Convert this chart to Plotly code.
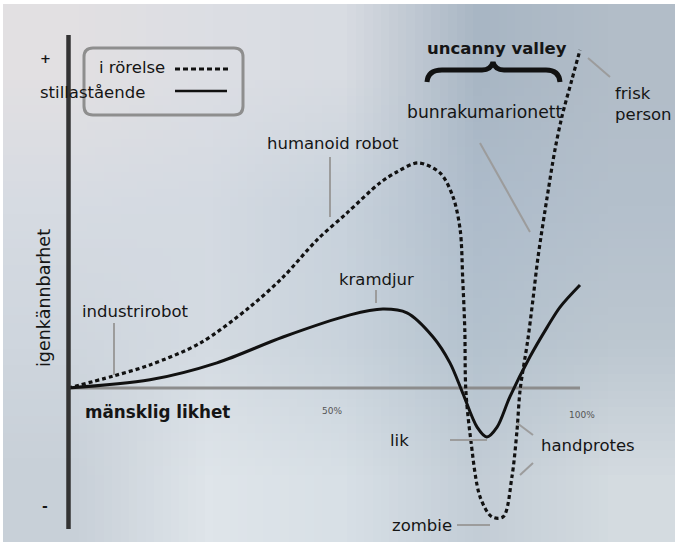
import base64, struct, zlib
import plotly.graph_objects as go

# ---------------- data ----------------
# x: mänsklig likhet (% human likeness), y: igenkännbarhet (familiarity)
moving_x = [0, 8.8, 16.0, 25.8, 35.5, 42.0, 48.6, 54.5, 60.9, 64.3, 68.4, 72.7, 75.2, 76.6,
            77.1, 77.5, 77.7, 78.6, 80.5, 82.8, 85.0, 86.7, 87.7, 88.3, 89.8, 90.8, 91.8,
            93.8, 95.1, 96.5, 98.4, 100]
moving_y = [0, 3.5, 6.8, 13.2, 23.8, 32.6, 43.5, 51.5, 60.3, 63.6, 66.2, 63.2, 56.2, 46.5,
            31.8, 17.1, -0.6, -14.4, -32.1, -37.9, -37.9, -26.2, -12.4, -0.6, 14.1, 25.9, 38.5,
            58.2, 70.0, 80.0, 90.6, 99.4]
still_x = [0, 16.0, 29.1, 42.0, 55.1, 61.5, 66.2, 71.3, 74.6, 77.1, 79.9, 81.8, 83.8, 86.3,
           90.2, 93.6, 96.1, 100]
still_y = [0, 2.4, 7.4, 15.0, 21.5, 23.2, 22.1, 15.0, 7.4, -1.5, -11.5, -14.4, -11.5, -2.6,
           9.1, 17.9, 23.8, 30.3]
series_names = ["i rörelse", "stillastående"]
tick_text = ["50%", "100%"]
axis_titles = ["mänsklig likhet", "igenkännbarhet"]
labels = ["industrirobot", "humanoid robot", "kramdjur", "bunrakumarionett",
          "frisk<br>person", "lik", "handprotes", "zombie", "uncanny valley"]

W, H = 675, 542
# axis ranges chosen so that 0 % / 0 sit at the drawn axis crossing
XR = [-68 / 5.12, (W - 68) / 5.12]
YR = [(388 - H) / 3.4, 388 / 3.4]


def PX(x):
    return x / W


def PY(y):
    return 1 - y / H


# ---------------- background gradient image ----------------
grid = [
    ["#e2e0e2", "#dcdee4", "#d8dce2", "#a8b6c4", "#b2bdc8"],
    ["#d6dbe2", "#d4dae2", "#c8d2dc", "#aebccb", "#b4c0cc"],
    ["#cfd6de", "#d4dbe2", "#c9d3dc", "#b4c2ce", "#bcc7d0"],
    ["#c8d0d8", "#dfe5ea", "#d8e0e6", "#c3cdd6", "#d4dbe0"],
]


def png_uri(rows):
    h = len(rows)
    w = len(rows[0])
    raw = b""
    for r in rows:
        raw += b"\x00"
        for c in r:
            raw += bytes(int(c[i:i + 2], 16) for i in (1, 3, 5))

    def chunk(t, d):
        c = struct.pack(">I", len(d)) + t + d
        return c + struct.pack(">I", zlib.crc32(t + d) & 0xffffffff)

    png = b"\x89PNG\r\n\x1a\n" + chunk(b"IHDR", struct.pack(">IIBBBBB", w, h, 8, 2, 0, 0, 0))
    png += chunk(b"IDAT", zlib.compress(raw)) + chunk(b"IEND", b"")
    return "data:image/png;base64," + base64.b64encode(png).decode()


fig = go.Figure()

fig.add_trace(go.Scatter(x=moving_x, y=moving_y, mode="lines", name=series_names[0],
                         line=dict(color="#111111", width=3.2, dash="4px,3px",
                                   shape="spline", smoothing=0.9)))
fig.add_trace(go.Scatter(x=still_x, y=still_y, mode="lines", name=series_names[1],
                         line=dict(color="#111111", width=3, shape="spline", smoothing=0.9)))

shapes = []
# axes
shapes.append(dict(type="line", xref="x", yref="y", x0=0, x1=100, y0=0, y1=0,
                   line=dict(color="#8c8c8c", width=3), layer="below"))
shapes.append(dict(type="line", xref="paper", yref="paper", x0=PX(68.5), x1=PX(68.5),
                   y0=PY(35), y1=PY(529), line=dict(color="#333333", width=4.5)))

# legend box (rounded)
x0, x1, y0, y1, r = 84, 243, 48, 115, 9
path = (f"M {PX(x0 + r)} {PY(y0)} L {PX(x1 - r)} {PY(y0)} Q {PX(x1)} {PY(y0)} {PX(x1)} {PY(y0 + r)} "
        f"L {PX(x1)} {PY(y1 - r)} Q {PX(x1)} {PY(y1)} {PX(x1 - r)} {PY(y1)} "
        f"L {PX(x0 + r)} {PY(y1)} Q {PX(x0)} {PY(y1)} {PX(x0)} {PY(y1 - r)} "
        f"L {PX(x0)} {PY(y0 + r)} Q {PX(x0)} {PY(y0)} {PX(x0 + r)} {PY(y0)} Z")
shapes.append(dict(type="path", xref="paper", yref="paper", path=path,
                   line=dict(color="#8e8e8e", width=3)))
shapes.append(dict(type="line", xref="paper", yref="paper", x0=PX(175), x1=PX(228),
                   y0=PY(69), y1=PY(69), line=dict(color="#111", width=3, dash="5px,3px")))
shapes.append(dict(type="line", xref="paper", yref="paper", x0=PX(175), x1=PX(227),
                   y0=PY(91), y1=PY(91), line=dict(color="#111", width=2.5)))

# leader lines
leaders = [
    (114, 323, 114, 375), (330, 157, 330, 217), (376, 290, 376, 303),
    (480, 143, 530, 232), (588, 58, 610, 77), (450, 440, 487, 440),
    (517, 423, 533, 435), (520, 475, 533, 463), (457, 525, 490, 525),
]
for a, b, c, d in leaders:
    shapes.append(dict(type="line", xref="paper", yref="paper", x0=PX(a), y0=PY(b),
                       x1=PX(c), y1=PY(d), line=dict(color="#9c9c9c", width=2)))

# brace over the uncanny valley
brace = (f"M {PX(427)} {PY(82)} Q {PX(428)} {PY(70)} {PX(442)} {PY(70)} "
         f"L {PX(482)} {PY(70)} Q {PX(491)} {PY(70)} {PX(493)} {PY(62)} "
         f"Q {PX(495)} {PY(70)} {PX(504)} {PY(70)} L {PX(546)} {PY(70)} "
         f"Q {PX(559)} {PY(70)} {PX(560)} {PY(82)}")
shapes.append(dict(type="path", xref="paper", yref="paper", path=brace,
                   line=dict(color="#111", width=5)))

FONT = "DejaVu Sans"
LS = 16.5


def ann(text, x, y, size=LS, bold=False, color="#151515", anchor="center", angle=0):
    if bold:
        text = f"<b>{text}</b>"
    return dict(text=text, x=PX(x), y=PY(y), xref="paper", yref="paper", showarrow=False,
                xanchor=anchor, yanchor="middle", textangle=angle,
                font=dict(family=FONT, size=size, color=color))


annotations = [
    ann("+", 45, 59, 13, True),
    ann("-", 45, 506, 14, True),
    ann(axis_titles[1], 44, 298, 17.5, angle=-90),
    ann(axis_titles[0], 157, 412, 16.8, True),
    ann(tick_text[0], 332, 411, 9, color="#555"),
    ann(tick_text[1], 582, 415, 9, color="#555"),
    ann(series_names[0], 97, 68, 16.5, anchor="left"),
    ann(series_names[1], 38, 92, 16.5, anchor="left"),
    ann(labels[0], 135, 311),
    ann(labels[1], 333, 143),
    ann(labels[2], 376, 279),
    ann(labels[3], 484, 112, 17.2),
    ann(labels[5], 399, 440),
    ann(labels[6], 588, 445),
    ann(labels[7], 422, 525),
    ann(labels[8], 497, 48, 16.5, True),
    dict(text=labels[4], x=PX(613), y=PY(104), xref="paper", yref="paper", showarrow=False,
         xanchor="left", yanchor="middle", align="left",
         font=dict(family=FONT, size=LS, color="#151515")),
]

fig.update_layout(
    width=W, height=H, margin=dict(l=0, r=0, t=0, b=0),
    paper_bgcolor="#ffffff", plot_bgcolor="rgba(0,0,0,0)",
    showlegend=False,
    xaxis=dict(range=XR, visible=False, fixedrange=True),
    yaxis=dict(range=YR, visible=False, fixedrange=True),
    shapes=shapes, annotations=annotations,
    images=[dict(source=png_uri(grid), xref="paper", yref="paper", x=PX(3), y=PY(4),
                 sizex=PX(675) - PX(3), sizey=PY(4) - PY(542), sizing="stretch",
                 layer="below", xanchor="left", yanchor="top")],
)

fig.write_html("out.html", config={"displayModeBar": False},
               post_script="document.body.style.margin='0';document.body.style.overflow='hidden';")
